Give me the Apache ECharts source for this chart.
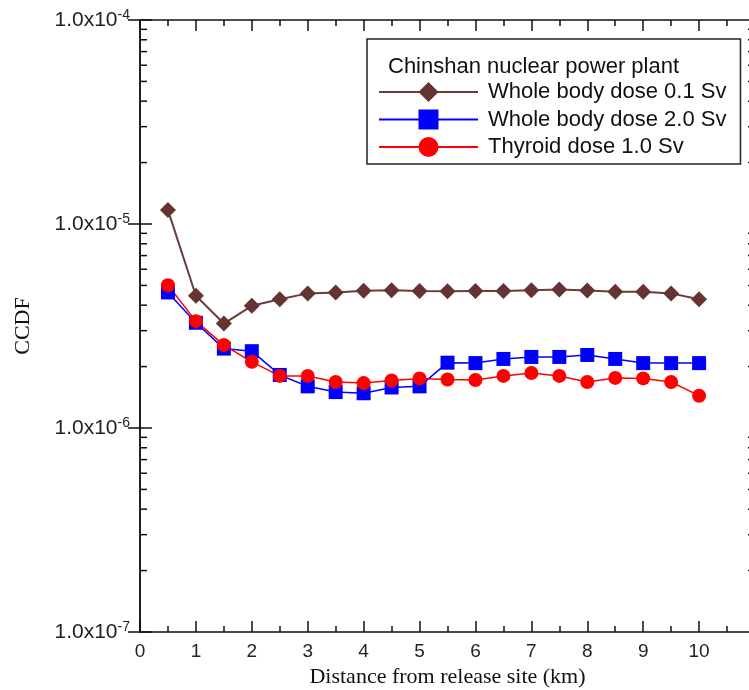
<!DOCTYPE html>
<html>
<head>
<meta charset="utf-8">
<script src="https://cdn.jsdelivr.net/npm/echarts@6/dist/echarts.min.js"></script>
<style>
  html, body { margin: 0; padding: 0; background: #fff; }
  #chart { width: 749px; height: 690px; }
</style>
</head>
<body>
<div id="chart"></div>
<script>
// distance from release site (km)
const distances = [0.5, 1, 1.5, 2, 2.5, 3, 3.5, 4, 4.5, 5, 5.5, 6, 6.5, 7, 7.5, 8, 8.5, 9, 9.5, 10];
// CCDF values
const wholeBody01 = [1.17e-5, 4.45e-6, 3.25e-6, 3.97e-6, 4.28e-6, 4.57e-6, 4.62e-6, 4.71e-6, 4.73e-6, 4.70e-6,
  4.68e-6, 4.70e-6, 4.70e-6, 4.74e-6, 4.78e-6, 4.72e-6, 4.66e-6, 4.66e-6, 4.57e-6, 4.28e-6];
const wholeBody20 = [4.62e-6, 3.28e-6, 2.45e-6, 2.38e-6, 1.82e-6, 1.60e-6, 1.50e-6, 1.48e-6, 1.58e-6, 1.60e-6,
  2.09e-6, 2.08e-6, 2.18e-6, 2.23e-6, 2.23e-6, 2.28e-6, 2.18e-6, 2.08e-6, 2.08e-6, 2.08e-6];
const thyroid10 = [5.01e-6, 3.34e-6, 2.55e-6, 2.11e-6, 1.80e-6, 1.80e-6, 1.68e-6, 1.66e-6, 1.71e-6, 1.75e-6,
  1.73e-6, 1.72e-6, 1.80e-6, 1.86e-6, 1.80e-6, 1.68e-6, 1.76e-6, 1.75e-6, 1.68e-6, 1.44e-6];
const seriesNames = ['Whole body dose 0.1 Sv', 'Whole body dose 2.0 Sv', 'Thyroid dose 1.0 Sv'];
const legendTitle = 'Chinshan nuclear power plant';
const yDecades = [-7, -6, -5, -4];

const sans = 'Liberation Sans, Arial, Helvetica, sans-serif';
const serif = 'Liberation Serif, Times New Roman, serif';

function pairs(ys) {
  return distances.map((d, i) => [d, ys[i]]);
}

const chart = echarts.init(document.getElementById('chart'), null, { renderer: 'canvas' });

const xBase = {
  type: 'value',
  min: 0,
  max: 11,
  interval: 1,
  splitLine: { show: false },
  axisLine: { onZero: false, lineStyle: { color: '#111', width: 1.5 } },
  axisTick: { inside: true, length: 11, lineStyle: { color: '#111', width: 1.5 } },
  minorTick: { show: true, splitNumber: 2, length: 6, lineStyle: { color: '#111', width: 1.5 } }
};

const yBase = {
  type: 'log',
  logBase: 10,
  min: 1e-7,
  max: 1e-4,
  splitLine: { show: false },
  axisLine: { lineStyle: { color: '#111', width: 1.5 } },
  axisTick: { inside: true, length: 12, lineStyle: { color: '#111', width: 1.5 } }
};

const option = {
  animation: false,
  backgroundColor: '#fff',
  grid: { left: 140, top: 20, width: 615, height: 612, outerBoundsMode: 'none', containLabel: false },
  title: {
    text: legendTitle,
    left: 388,
    top: 56,
    padding: 0,
    z: 10,
    textStyle: { fontFamily: sans, fontSize: 22, fontWeight: 'normal', color: '#111' }
  },
  legend: {
    data: seriesNames,
    orient: 'vertical',
    left: 367,
    top: 39,
    padding: [42, 14, 6, 11],
    itemGap: 5.5,
    itemWidth: 99,
    itemHeight: 25,
    backgroundColor: '#fff',
    borderColor: '#222',
    borderWidth: 1.5,
    borderRadius: 0,
    textStyle: { fontFamily: sans, fontSize: 22, color: '#111', padding: [0, 0, 0, 5] }
  },
  xAxis: [
    Object.assign({}, xBase, {
      position: 'bottom',
      name: 'Distance from release site (km)',
      nameLocation: 'middle',
      nameGap: 34,
      nameTextStyle: { fontFamily: serif, fontSize: 22, color: '#111' },
      axisLabel: {
        margin: 10,
        fontFamily: sans,
        fontSize: 19,
        color: '#222',
        formatter: v => (v > 10 ? '' : String(v))
      }
    }),
    Object.assign({}, xBase, { position: 'top', axisLabel: { show: false } })
  ],
  yAxis: [
    Object.assign({}, yBase, {
      position: 'left',
      name: 'CCDF',
      nameLocation: 'middle',
      nameRotate: 90,
      nameGap: 106,
      nameTextStyle: { fontFamily: serif, fontSize: 22, color: '#111' },
      axisLabel: {
        margin: 10,
        formatter: v => '{a|1.0x10}{b|' + Math.round(Math.log10(v)) + '}',
        rich: {
          a: { fontFamily: sans, fontSize: 21, color: '#222', lineHeight: 24 },
          b: { fontFamily: sans, fontSize: 14, color: '#222', verticalAlign: 'top', lineHeight: 12 }
        }
      }
    }),
    Object.assign({}, yBase, { position: 'right', axisLabel: { show: false } })
  ],
  series: [
    {
      name: seriesNames[0],
      type: 'line',
      data: pairs(wholeBody01),
      symbol: 'diamond',
      symbolSize: 16,
      color: '#663333',
      lineStyle: { color: '#6e3a3a', width: 2 },
      itemStyle: { color: '#663333' }
    },
    {
      name: seriesNames[1],
      type: 'line',
      data: pairs(wholeBody20),
      symbol: 'rect',
      symbolSize: 14,
      color: '#0000ff',
      lineStyle: { color: '#0000ff', width: 1.5 },
      itemStyle: { color: '#0000ff' }
    },
    {
      name: seriesNames[2],
      type: 'line',
      data: pairs(thyroid10),
      symbol: 'circle',
      symbolSize: 14,
      color: '#ff0000',
      lineStyle: { color: '#ff0000', width: 1.5 },
      itemStyle: { color: '#ff0000' }
    }
  ]
};

chart.setOption(option);

// log minor ticks (2..9 per decade) on both y axes, placed through the axis scale
const xLeft = chart.convertToPixel({ xAxisIndex: 0 }, 0);
const xRight = chart.convertToPixel({ xAxisIndex: 0 }, 11);
const minorTicks = [];
yDecades.slice(0, -1).forEach(d => {
  for (let k = 2; k <= 9; k++) {
    const y = chart.convertToPixel({ yAxisIndex: 0 }, k * Math.pow(10, d));
    minorTicks.push({
      type: 'line', silent: true,
      shape: { x1: xLeft, y1: y, x2: xLeft + 7, y2: y },
      style: { stroke: '#111', lineWidth: 1.5 }
    });
    minorTicks.push({
      type: 'line', silent: true,
      shape: { x1: xRight - 7, y1: y, x2: xRight, y2: y },
      style: { stroke: '#111', lineWidth: 1.5 }
    });
  }
});
chart.setOption({ graphic: minorTicks });
</script>
</body>
</html>
